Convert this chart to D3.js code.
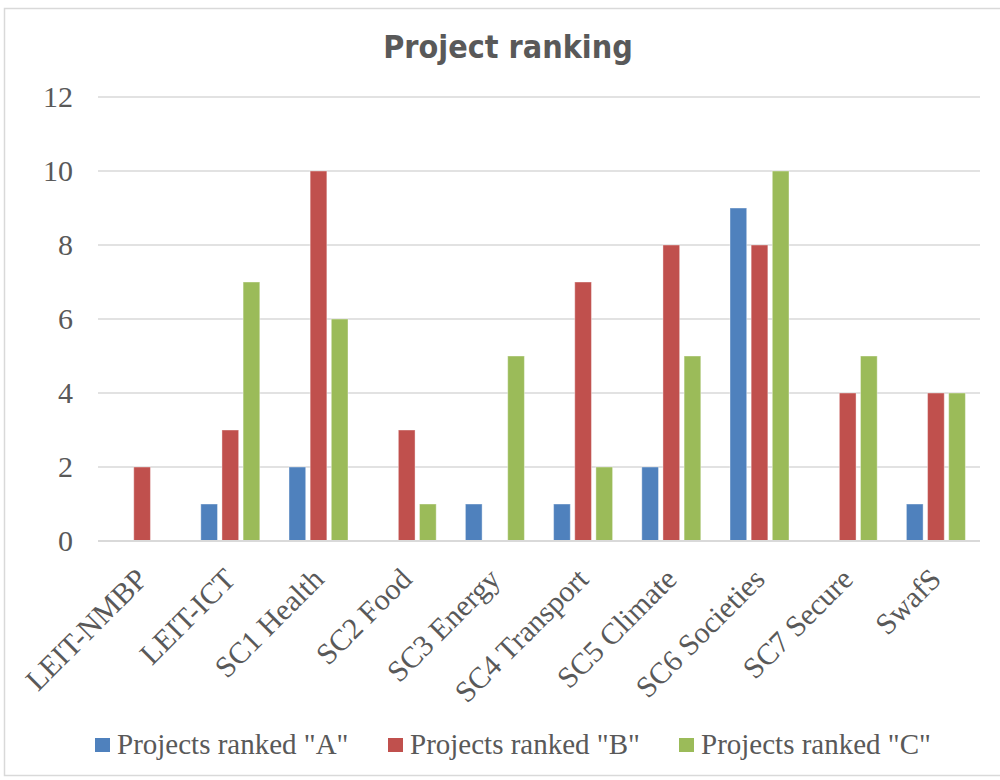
<!DOCTYPE html>
<html><head><meta charset="utf-8">
<script src="https://cdn.jsdelivr.net/npm/d3@7"></script>
<style>body{margin:0;background:#fff}</style>
</head><body>
<svg id="c" width="1000" height="780"></svg>
<script>
const categories = ["LEIT-NMBP","LEIT-ICT","SC1 Health","SC2 Food","SC3 Energy","SC4 Transport","SC5 Climate","SC6 Societies","SC7 Secure","SwafS"];
const seriesNames = ['Projects ranked "A"','Projects ranked "B"','Projects ranked "C"'];
const rankedA = [0,1,2,0,1,1,2,9,0,1];
const rankedB = [2,3,10,3,0,7,8,8,4,4];
const rankedC = [0,7,6,1,5,2,5,10,5,4];
const yTicks = [0,2,4,6,8,10,12];
const colors = ["#4F81BD","#C0504D","#9BBB59"];
const series = [rankedA, rankedB, rankedC];

(function(){
const svg = d3.select("#c");
const serif = "'Liberation Serif','Times New Roman',serif";
svg.append("rect").attr("x",4.5).attr("y",8.5).attr("width",1000).attr("height",767)
  .attr("fill","#fff").attr("stroke","#d9d9d9").attr("stroke-width",1.5);

const pL=98, pR=980, pT=97, pB=541;
const x0 = d3.scaleBand().domain(categories).range([pL,pR]).paddingInner(0).paddingOuter(0);
const x1 = d3.scaleBand().domain([0,1,2]).range([0,59]).paddingInner(0.21).paddingOuter(0);
const y = d3.scaleLinear().domain([0,12]).range([pB,pT]);

svg.append("text").attr("x",508).attr("y",58).attr("text-anchor","middle")
  .attr("font-family","'DejaVu Sans Condensed','DejaVu Sans',sans-serif").attr("font-stretch","condensed")
  .attr("font-weight","bold").attr("font-size",32).attr("fill","#595959").text("Project ranking");

svg.append("g").selectAll("line").data(yTicks.filter(d=>d>0)).join("line")
  .attr("x1",pL).attr("x2",pR).attr("y1",d=>y(d)).attr("y2",d=>y(d))
  .attr("stroke","#d9d9d9").attr("stroke-width",1.5);

svg.append("g").selectAll("text").data(yTicks).join("text")
  .attr("x",73).attr("y",d=>y(d)+10).attr("text-anchor","end")
  .attr("font-family",serif).attr("font-size",30).attr("fill","#595959")
  .text(d=>d);

const g = svg.append("g");
categories.forEach((c,i)=>{
  const gx = x0(c) + (x0.bandwidth()-59)/2;
  series.forEach((s,j)=>{
    if(s[i]>0){
      g.append("rect").attr("x",gx+x1(j)).attr("width",x1.bandwidth())
        .attr("y",y(s[i])).attr("height",y(0)-y(s[i]))
        .attr("fill",colors[j]).attr("stroke","#ffffff").attr("stroke-opacity",0.4).attr("stroke-width",1);
    }
  });
});

svg.append("line").attr("x1",pL).attr("x2",pR).attr("y1",pB).attr("y2",pB)
  .attr("stroke","#d9d9d9").attr("stroke-width",2);

svg.append("g").selectAll("text").data(categories).join("text")
  .attr("transform",d=>`translate(${x0(d)+x0.bandwidth()/2+7},${pB+40}) rotate(-45)`)
  .attr("text-anchor","end")
  .attr("font-family",serif).attr("font-size",30).attr("fill","#595959")
  .text(d=>d);

const legX = [95,388,679];
const leg = svg.append("g");
seriesNames.forEach((n,j)=>{
  leg.append("rect").attr("x",legX[j]).attr("y",738).attr("width",15).attr("height",14).attr("fill",colors[j]);
  leg.append("text").attr("x",legX[j]+22).attr("y",754)
    .attr("font-family",serif).attr("font-size",29).attr("fill","#595959")
    .text(n);
});
})();
</script>
</body></html>
